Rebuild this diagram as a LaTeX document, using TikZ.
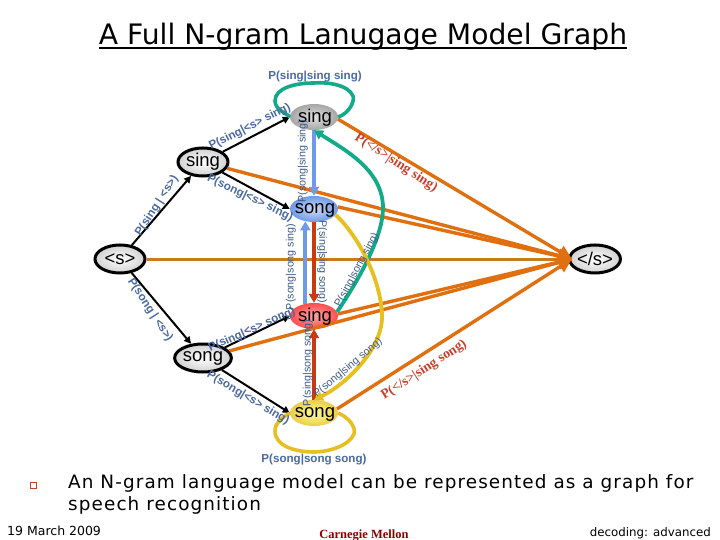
\documentclass[tikz,border=0pt]{standalone}
\usepackage{fontspec}
\setmainfont{DejaVu Sans}
\newfontfamily\arial{Liberation Sans}
\newfontfamily\timesf{Liberation Serif}
\newfontfamily\spaced[LetterSpace=6]{DejaVu Sans}
\usetikzlibrary{arrows.meta,shapes.geometric}
\definecolor{lab}{HTML}{4A6AA0}
\definecolor{labred}{HTML}{C8402A}
\definecolor{orng}{HTML}{E0700F}
\definecolor{orngd}{HTML}{C97A1E}
\definecolor{grn}{HTML}{12AA88}
\definecolor{yel}{HTML}{E5C020}
\definecolor{blu}{HTML}{6F9AE8}
\definecolor{redd}{HTML}{C93A14}
\tikzset{
 x=1pt,y=-1pt,
 state/.style={ellipse,minimum width=50pt,minimum height=28pt,inner sep=0pt,draw=black,line width=3pt,shade,inner color=white,outer color=black!18,font=\arial\fontsize{18.5}{18}\selectfont},
 plain/.style={ellipse,minimum width=48pt,minimum height=26pt,inner sep=0pt,shade},
 word/.style={inner sep=0pt,font=\arial\fontsize{18.5}{18}\selectfont},
 lbl/.style={font=\arial\bfseries\fontsize{11.6}{12}\selectfont,text=lab,inner sep=0pt},
 vlbl/.style={font=\arial\fontsize{10.7}{11}\selectfont,text=lab!85!black,inner sep=0pt},
 rlbl/.style={font=\timesf\bfseries\fontsize{13.7}{14}\selectfont,text=labred,inner sep=0pt},
 blk/.style={draw=black,line width=2pt,-{Triangle[length=7pt,width=7pt]}},
 org/.style={draw=orng,line width=3.4pt,-{Triangle[length=14pt,width=13pt]}},
 col/.style={line width=3.8pt,-{Triangle[length=9pt,width=10pt]}},
 loopc/.style={line width=3.6pt},
}
\begin{document}
\begin{tikzpicture}
\useasboundingbox[fill=white] (0,0) rectangle (720,540);
% title
\node[anchor=base,inner sep=0pt,font=\fontsize{28.2}{29}\selectfont] (title) at (363,45) {A Full N-gram Lanugage Model Graph};
\draw[line width=1.2pt] (title.base west)++(0,3) -- ([yshift=-3pt]title.base east);
% nodes
\node[state] (s) at (120,259) {\raisebox{-1pt}{<s>}};
\node[state] (sa) at (203,162) {\raisebox{-1pt}{sing}};
\node[state] (sb) at (203,358) {\raisebox{-1pt}{song}};
\node[state] (e) at (595,259) {\raisebox{-1pt}{</s>}};
\node[plain,inner color=white!75!gray,outer color=gray!70] (ta) at (314,117) {};
\node[plain,inner color=blu!35,outer color=blu] (tb) at (314,209) {};
\node[plain,inner color=red!35!white,outer color=red!70!white] (tc) at (314,316) {};
\node[plain,inner color=yellow!45!white,outer color=yel!80!white] (td) at (314,413) {};
\coordinate (eend) at (572,259);
% orange edges
\draw[draw=orngd,line width=3pt] (s) -- (eend);
\draw[org] (ta.-5) -- (eend);
\draw[org] (sa) -- (eend);
\draw[org] (tb.5) -- (eend);
\draw[org] (tc.5) -- (eend);
\draw[org] (sb) -- (eend);
\draw[org] (td.10) -- (eend);
% black edges
\draw[blk] (s) -- (sa);
\draw[blk] (s) -- (sb);
\draw[blk] (sa) -- (ta.west);
\draw[blk] (sa) -- (tb.west);
\draw[blk] (sb) -- (tc.west);
\draw[blk] (sb) -- (td.west);
% vertical edges
\draw[col,blu] (ta.south) -- (tb.north);
\draw[col,blu] (tc.125) -- (tb.235);
\draw[col,redd] (tb.south) -- (tc.north);
\draw[col,redd] (td.north) -- (tc.south);
% curved edges
\draw[col,grn] (tc.10) .. controls (362,275) and (383,235) .. (383,208) .. controls (383,170) and (345,150) .. (ta.south);
\draw[col,yel] (tb.-15) .. controls (362,240) and (382,285) .. (382,317) .. controls (382,350) and (345,385) .. (td.north);
% loops
\draw[loopc,grn] (ta.east) .. controls (350,113) and (355,100) .. (353,96) .. controls (348,84) and (325,82) .. (314,83) .. controls (295,83) and (275,88) .. (275,101) .. controls (275,110) and (288,114) .. (ta.west);
\draw[loopc,yel] (td.east) .. controls (350,418) and (356,428) .. (354,434) .. controls (349,446) and (328,452) .. (314,452) .. controls (295,452) and (275,446) .. (275,431) .. controls (275,423) and (282,418) .. (td.west);
% node words on top of the connectors
\node[word] (wa) at (315,118) {sing};
\node[word] (wb) at (315,210) {song};
\node[word] (wc) at (315,317) {sing};
\node[word] (wd) at (315,414) {song};
% labels
\node[lbl] (l1) at (315,77) {P(sing|sing sing)};
\node[lbl] (l2) at (314,460) {P(song|song song)};
\node[lbl,rotate=27] (l3) at (250,127) {P(sing|<s> sing)};
\node[lbl,rotate=57] (l4) at (157,206) {P(sing | <s>)};
\node[lbl,rotate=-26] (l5) at (250,198) {P(song|<s> sing)};
\node[lbl,rotate=-57] (l6) at (150,310) {P(song | <s>)};
\node[lbl,rotate=24] (l7) at (252,330) {P(sing|<s> song)};
\node[lbl,rotate=-31] (l8) at (248,398) {P(song|<s> sing)};
\node[vlbl,rotate=90] (l9) at (303,161) {P(song|sing sing)};
\node[vlbl,rotate=90] (l10) at (291,267) {P(song|song sing)};
\node[vlbl,rotate=-90] (l11) at (322,262) {P(sing|sing song)};
\node[vlbl,rotate=90] (l12) at (308,363) {P(sing|song song)};
\node[vlbl,rotate=62] (l13) at (357,270) {P(sing|song sing)};
\node[vlbl,rotate=40] (l14) at (348,368) {P(song|sing song)};
\node[rlbl,rotate=-33] (l15) at (396,163) {P(</s>|sing sing)};
\node[rlbl,rotate=33] (l16) at (424,370) {P(</s>|sing song)};
% text
\node[draw=labred,line width=0.8pt,minimum size=6pt,inner sep=0pt] (bul) at (33,485) {};
\node[anchor=base west,inner sep=0pt,font=\spaced\fontsize{18.4}{22}\selectfont] (t1) at (68,488) {An N-gram language model can be represented as a graph for};
\node[anchor=base west,inner sep=0pt,font=\spaced\fontsize{18.4}{22}\selectfont] (t2) at (68,510) {speech recognition};
\node[anchor=base west,inner sep=0pt,font=\fontsize{12.5}{13}\selectfont] (f1) at (7,535) {19 March 2009};
\node[anchor=base east,inner sep=0pt,font=\fontsize{11.8}{12}\selectfont] (f2) at (711,536) {decoding: advanced};
\node[anchor=base,inner sep=0pt,text=red!55!black,font=\timesf\bfseries\fontsize{12.5}{13}\selectfont] (f3) at (364,538) {Carnegie Mellon};
\end{tikzpicture}
\end{document}
